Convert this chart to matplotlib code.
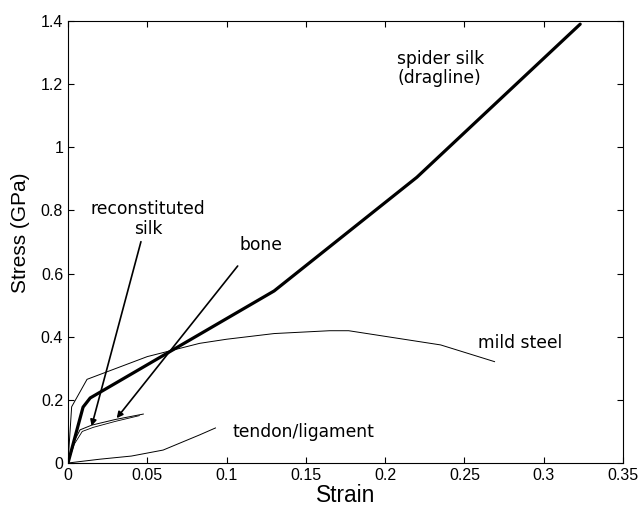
import matplotlib
matplotlib.use('Agg')
import matplotlib.pyplot as plt

# stress-strain curves (strain, stress in GPa)
silk_x = [0, 0.0095, 0.014, 0.13, 0.22, 0.323]
silk_y = [0, 0.177, 0.206, 0.545, 0.905, 1.39]

steel_x = [0, 0.0023, 0.012, 0.05, 0.083, 0.1, 0.13, 0.165, 0.177, 0.235, 0.269]
steel_y = [0, 0.178, 0.265, 0.337, 0.379, 0.392, 0.41, 0.419, 0.419, 0.374, 0.321]

tendon_x = [0, 0.02, 0.04, 0.06, 0.083, 0.093]
tendon_y = [0, 0.012, 0.022, 0.041, 0.089, 0.111]

recon1_x = [0, 0.004, 0.0076, 0.015, 0.03, 0.0475]
recon1_y = [0, 0.07, 0.105, 0.12, 0.138, 0.155]
recon2_x = [0, 0.004, 0.009, 0.016, 0.03, 0.045]
recon2_y = [0, 0.06, 0.1, 0.113, 0.132, 0.15]

xticks = [0, 0.05, 0.1, 0.15, 0.2, 0.25, 0.3, 0.35]
xticklabels = ['0', '0.05', '0.1', '0.15', '0.2', '0.25', '0.3', '0.35']
yticks = [0, 0.2, 0.4, 0.6, 0.8, 1.0, 1.2, 1.4]
yticklabels = ['0', '0.2', '0.4', '0.6', '0.8', '1', '1.2', '1.4']

fig = plt.figure(figsize=(6.41, 5.07), dpi=100)
ax = fig.add_axes([68 / 641, 44 / 507, 555 / 641, 442 / 507])

ax.plot(silk_x, silk_y, color='black', lw=2.3, solid_capstyle='round')
ax.plot(steel_x, steel_y, color='black', lw=0.7)
ax.plot(tendon_x, tendon_y, color='black', lw=0.7)
ax.plot(recon1_x, recon1_y, color='black', lw=0.7)
ax.plot(recon2_x, recon2_y, color='black', lw=0.6)

arrow = dict(arrowstyle='-|>', color='black', lw=1.2, mutation_scale=9,
             shrinkA=0, shrinkB=0)
ax.annotate('', xy=(0.0149, 0.117), xytext=(0.046, 0.701), arrowprops=arrow)
ax.annotate('', xy=(0.0307, 0.142), xytext=(0.107, 0.624), arrowprops=arrow)

tfont = dict(family='DejaVu Sans', fontsize=12.3)
ax.text(0.0505, 0.773, 'reconstituted\nsilk', ha='center', va='center',
        linespacing=1.1, **tfont)
ax.text(0.108, 0.69, 'bone', ha='left', va='center', **tfont)
ax.text(0.2075, 1.25, 'spider silk\n(dragline)', ha='left', va='center',
        linespacing=1.1, **tfont)
ax.text(0.2585, 0.381, 'mild steel', ha='left', va='center', **tfont)
ax.text(0.104, 0.097, 'tendon/ligament', ha='left', va='center', **tfont)

ax.set_xlim(0, 0.35)
ax.set_ylim(0, 1.4)
ax.set_xticks(xticks)
ax.set_xticklabels(xticklabels)
ax.set_yticks(yticks)
ax.set_yticklabels(yticklabels)
ax.tick_params(direction='in', top=True, right=True, length=4, width=0.8,
               labelsize=11.5)
for lab in ax.get_xticklabels() + ax.get_yticklabels():
    lab.set_family('Liberation Sans')
for s in ax.spines.values():
    s.set_linewidth(0.8)

ax.set_xlabel('Strain', family='Liberation Sans', fontsize=16.4, labelpad=1)
ax.set_ylabel('Stress (GPa)', family='Liberation Sans', fontsize=15)
ax.yaxis.set_label_coords(-0.068, 0.52)

fig.savefig('out.png', dpi=100)
